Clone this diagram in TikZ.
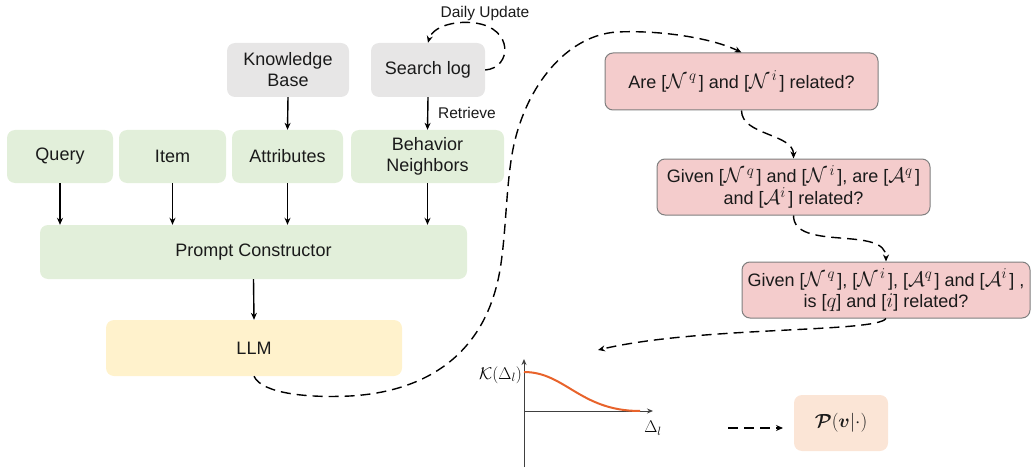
\RequirePackage{fix-cm}
\documentclass[tikz,border=0pt]{standalone}
\usepackage{amsmath,bm}
\usepackage{fontspec}
\setmainfont{Liberation Sans}
\DeclareMathSizes{18}{21}{15}{11}
\DeclareMathSizes{15}{17}{12}{9}
\DeclareMathSizes{16}{19}{13}{10}
\usetikzlibrary{arrows.meta}
\definecolor{gfill}{HTML}{E2EFDA}
\definecolor{grayfill}{HTML}{E7E6E6}
\definecolor{pinkfill}{HTML}{F4CCCC}
\definecolor{pinkdraw}{HTML}{7F7F7F}
\definecolor{yfill}{HTML}{FFF2CC}
\definecolor{peach}{HTML}{FBE5D6}
\definecolor{curve}{HTML}{E8632B}
\definecolor{txt}{HTML}{1A1A1A}
\newcommand{\myN}[1]{[$\mathcal{N}^{\,#1}\mkern2mu$]}
\newcommand{\myA}[1]{[$\mathcal{A}^{#1}\mkern2mu$]}
\begin{document}
\begin{tikzpicture}[x=1pt,y=-1pt,
  base/.style={rounded corners=8pt, inner sep=0pt, align=center, text=txt,
    font=\fontsize{18}{21}\selectfont},
  gbox/.style={base, fill=gfill, minimum height=54pt},
  graybox/.style={base, fill=grayfill, minimum height=54pt},
  pbox/.style={base, fill=pinkfill, draw=pinkdraw, line width=1pt, minimum height=56pt},
  lbl/.style={inner sep=0pt, text=txt, font=\fontsize{15.5}{18}\selectfont},
  solidarrow/.style={draw=black, line width=1.4pt, -{Stealth[length=7pt,width=6pt]}},
  dasharrow/.style={draw=black, line width=1.4pt, dash pattern=on 10pt off 6pt, -{Stealth[length=7pt,width=6pt]}},
  axis/.style={draw=black!75, line width=1pt, -{Stealth[length=6pt,width=5pt]}}
]
\useasboundingbox (0,0) rectangle (1033,468);

% top sources
\node[graybox, minimum width=122pt] (kb) at (288,70) {Knowledge\\Base};
\node[graybox, minimum width=114pt] (sl) at (428,70) {Search log};

% inputs
\node[gbox, minimum width=106pt, minimum height=53pt] (query) at (60,156.5) {Query};
\node[gbox, minimum width=107pt, minimum height=53pt] (item) at (172.5,156.5) {Item};
\node[gbox, minimum width=111pt, minimum height=53pt] (attr) at (287.5,156.5) {Attributes};
\node[gbox, minimum width=153pt, minimum height=53pt] (beh) at (427.5,156.5) {Behavior\\Neighbors};

\node[gbox, minimum width=427pt] (pc) at (253.5,252) {Prompt Constructor};
\node[base, fill=yfill, minimum width=296pt, minimum height=56pt] (llm) at (254,348) {LLM};

% pink question boxes
\node[pbox, minimum width=273pt, minimum height=57pt] (p1) at (741.5,81.5)
  {Are \myN{q} and \myN{i} related?};
\node[pbox, minimum width=273pt] (p2) at (793.5,187)
  {Given \myN{q} and \myN{i}, are \myA{q}\\and \myA{i} related?};
\node[pbox, minimum width=288pt] (p3) at (886,290)
  {Given \myN{q}, \myN{i}, \myA{q} and \myA{i} ,\\is [$q$] and [$i$] related?};

% result box
\node[base, fill=peach, minimum width=94pt, minimum height=56pt, font=\fontsize{16}{18}\selectfont] (res) at (841,423)
  {$\bm{\mathcal{P}}(\bm{v}|\cdot)$};

% labels
\node[lbl] (daily) at (485,13) {Daily Update};
\node[lbl] (retr) at (467,113) {Retrieve};

% solid arrows
\draw[solidarrow] (kb.south) -- (attr.north);
\draw[solidarrow] (sl.south) -- (beh.north);
\draw[solidarrow] (query.south) -- (query.south |- pc.north);
\draw[solidarrow] (item.south) -- (item.south |- pc.north);
\draw[solidarrow] (attr.south) -- (attr.south |- pc.north);
\draw[solidarrow] (beh.south) -- (beh.south |- pc.north);
\draw[solidarrow] (pc.south) -- (llm.north);

% daily update loop
\draw[dasharrow] (sl.east) .. controls (512,68) and (514,28) .. (475,23)
  .. controls (452,20) and (432,28) .. (sl.north);

% main dashed curve
\draw[dasharrow] (llm.south) .. controls (262,394) and (310,398) .. (350,396)
  .. controls (420,392) and (480,360) .. (498,280)
  .. controls (507,240) and (505,180) .. (515,140)
  .. controls (530,80) and (570,35) .. (617,32)
  .. controls (660,30) and (712,38) .. (p1.north);

% between pink boxes
\draw[dasharrow] (p1.south) to[out=-90,in=90, looseness=0.9] (p2.north);
\draw[dasharrow] (p2.south) to[out=-90,in=90, looseness=0.9] (p3.north);
\coordinate (kin) at (598,350);
\draw[dasharrow] (p3.south) .. controls (876,333) and (700,326) .. (kin);

% plot
\coordinate (o) at (524,411);
\coordinate (ybot) at (524,467);
\coordinate (ytop) at (524,359);
\coordinate (xend) at (653,411);
\draw[axis] (ybot) -- (ytop);
\draw[axis] (o) -- (xend);
\draw[draw=curve, line width=2pt] (524,372) .. controls (565,372) and (580,411) .. (640,411);
\node[inner sep=0pt, anchor=east, font=\fontsize{15}{17}\selectfont] (klab) at (522,375) {$\mathcal{K}(\Delta_l)$};
\node[inner sep=0pt, font=\fontsize{15}{17}\selectfont] (dlab) at (653,428) {$\Delta_l$};

% dashed arrow to result
\coordinate (da) at (728,428);
\coordinate (db) at (783,428);
\draw[dasharrow] (da) -- (db);
\end{tikzpicture}
\end{document}
